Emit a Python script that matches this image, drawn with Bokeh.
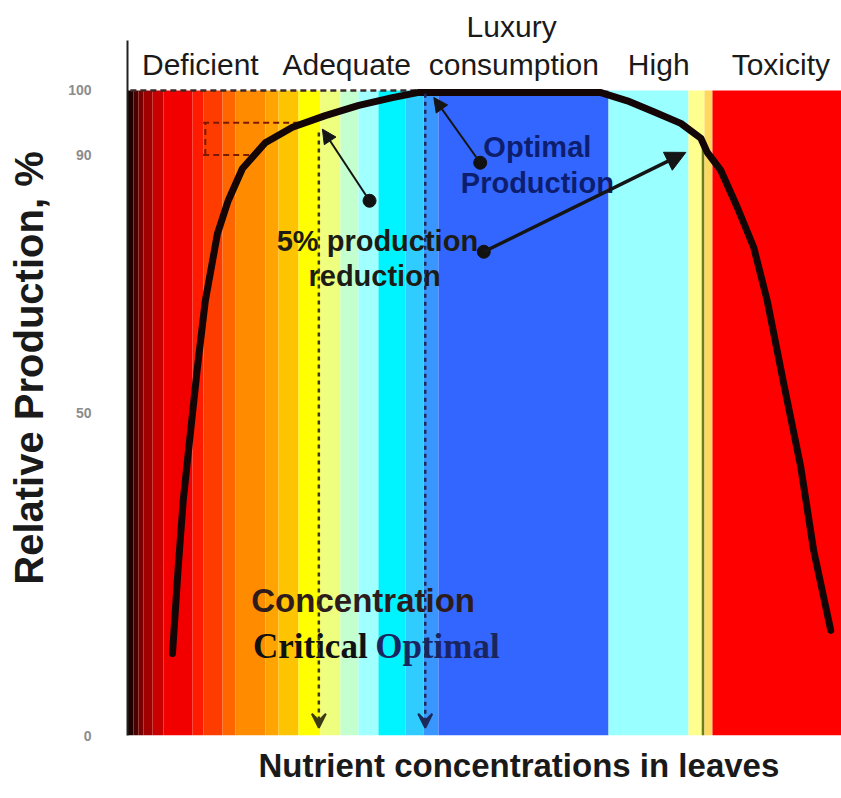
from bokeh.plotting import figure
from bokeh.models import Range1d, FixedTicker, Arrow, VeeHead, NormalHead, Title
from bokeh.core.properties import value
from bokeh.embed import file_html
from bokeh.resources import INLINE

# ---------------- data ----------------
# colour bands along the nutrient-concentration axis (arbitrary units 0-100)
band_left = [0.0, 0.84, 1.54, 2.24, 3.50, 5.04, 9.10, 10.64, 13.31, 15.13, 19.33, 21.15,
             23.95, 27.03, 29.83, 32.35, 35.15, 38.94, 41.46, 43.56, 67.37, 78.57, 80.81, 81.93]
band_right = band_left[1:] + [100.0]
band_color = ["#1e0000", "#4c0000", "#7a0000", "#a00000", "#c80000", "#f20000", "#ff1a00",
              "#ff3c00", "#ff6600", "#ff8c00", "#ffa400", "#ffc400", "#ffff00", "#eeff80",
              "#c4ffd0", "#a0ffff", "#00f4ff", "#30ccff", "#3a96ff", "#3366ff", "#99ffff",
              "#ffff90", "#ffd860", "#ff0000"]

# response curve: relative production (%) vs nutrient concentration
curve_x = [6.3, 7.1, 7.8, 8.8, 9.8, 10.9, 12.6, 14.1, 16.1, 19.3, 23.1, 27.7, 32.4, 37.1, 40.8,
           66.2, 70.0, 73.7, 77.5, 80.3, 81.2, 83.1, 85.4, 87.7, 89.6, 91.9, 94.3, 96.1, 98.5]
curve_y = [12.7, 26.0, 36.4, 46.8, 57.1, 67.4, 77.8, 82.9, 87.9, 91.9, 94.3, 96.1, 97.7, 98.9, 99.7,
           99.7, 98.4, 96.7, 94.9, 92.6, 90.4, 87.6, 81.9, 75.7, 67.4, 54.6, 41.6, 28.7, 16.3]

y_ticks = [0, 50, 90, 100]

zone_labels = ["Deficient", "Adequate", "consumption", "High", "Toxicity", "Luxury"]
zone_x = [10.2, 30.7, 54.1, 74.4, 91.5, 53.8]
zone_y = [104.0, 104.0, 104.0, 104.0, 104.0, 109.9]

critical_x = 26.8
optimal_x = 41.7
toxic_line_x = 80.6

# pointer arrows (tail -> head)
ptr_x0 = [33.9, 49.4, 49.9]
ptr_y0 = [82.9, 88.8, 75.0]
ptr_x1 = [27.3, 42.9, 78.2]
ptr_y1 = [94.0, 98.9, 90.4]

# ---------------- figure ----------------
p = figure(width=841, height=798, output_backend="svg", toolbar_location=None,
           x_range=Range1d(0, 100), y_range=Range1d(0, 113.95),
           min_border_left=127, min_border_right=0, min_border_top=0, min_border_bottom=63)
p.outline_line_color = None
p.grid.visible = False
p.xaxis.visible = False
p.background_fill_color = "white"

# bands
p.quad(left=band_left, right=band_right, bottom=0, top=100, fill_color=band_color,
       line_color=None)
p.segment(x0=[toxic_line_x], y0=[0], x1=[toxic_line_x], y1=[92], line_color="#6f7c1c",
          line_width=2.5)

# dashed reference lines
p.segment(x0=[0.4], y0=[100], x1=[41.0], y1=[100], line_color="#3a2a2a", line_width=2.5,
          line_dash="6 4")
p.segment(x0=[10.6, 10.6, 10.9], y0=[95, 90, 90], x1=[24.5, 18.0, 10.9], y1=[95, 90, 95],
          line_color="#7a1a00", line_width=2, line_dash="6 4")

# vertical dashed arrows (critical / optimal)
p.add_layout(Arrow(x_start=critical_x, y_start=93.5, x_end=critical_x, y_end=1.2,
                   line_color="#3c3c14", line_width=2.5, line_dash="4 4",
                   end=VeeHead(size=14, line_color="#3c3c14", fill_color="#3c3c14", line_width=2)))
p.add_layout(Arrow(x_start=optimal_x, y_start=99.5, x_end=optimal_x, y_end=1.2,
                   line_color="#1c2a5a", line_width=2.5, line_dash="4 4",
                   end=VeeHead(size=14, line_color="#1c2a5a", fill_color="#1c2a5a", line_width=2)))

# curve
p.line(curve_x, curve_y, line_color="#140606", line_width=7, line_join="round", line_cap="round")

# pointer arrows
widths = [2, 2, 3.5]
heads = [14, 14, 20]
for i in range(3):
    p.add_layout(Arrow(x_start=ptr_x0[i], y_start=ptr_y0[i], x_end=ptr_x1[i], y_end=ptr_y1[i],
                       line_color="#151515", line_width=widths[i],
                       end=NormalHead(size=heads[i], line_color="#151515", fill_color="#151515")))
p.scatter(ptr_x0, ptr_y0, size=13, color="#111111")

# texts
p.text(zone_x, zone_y, text=zone_labels, text_align="center", text_baseline="middle",
       text_font=value("Liberation Sans"), text_font_size="30px", text_color="#1a1a1a")
p.text([35.0, 34.6], [76.6, 71.3], text=["5% production", "reduction"], text_align="center",
       text_baseline="middle", text_font=value("Liberation Sans"), text_font_size="29px",
       text_font_style="bold", text_color="#1c1c14")
p.text([57.4, 57.4], [91.3, 85.7], text=["Optimal", "Production"], text_align="center",
       text_baseline="middle", text_font=value("Liberation Sans"), text_font_size="29px",
       text_font_style="bold", text_color="#0d1e6e")
p.text([33.0], [20.9], text=["Concentration"], text_align="center", text_baseline="middle",
       text_font=value("Liberation Sans"), text_font_size="33px", text_font_style="bold",
       text_color="#2e1c1c")
p.text([25.6], [13.8], text=["Critical"], text_align="center", text_baseline="middle",
       text_font=value("Liberation Serif"), text_font_size="35px", text_font_style="bold",
       text_color="#111111")
p.text([43.4], [13.8], text=["Optimal"], text_align="center", text_baseline="middle",
       text_font=value("Liberation Serif"), text_font_size="35px", text_font_style="bold",
       text_color="#1a2560")

# y axis
ya = p.yaxis[0]
ya.bounds = (0, 107.75)
ya.ticker = FixedTicker(ticks=y_ticks)
ya.axis_line_color = "#222222"
ya.axis_line_width = 2
ya.major_tick_line_color = None
ya.minor_tick_line_color = None
ya.major_label_standoff = 30
ya.major_label_text_font = "Liberation Sans"
ya.major_label_text_font_size = "14px"
ya.major_label_text_font_style = "bold"
ya.major_label_text_color = "#8c8c8c"
ya.axis_label = "Relative Production, %"
ya.axis_label_text_font = "Liberation Sans"
ya.axis_label_text_font_size = "40px"
ya.axis_label_text_font_style = "bold"
ya.axis_label_text_color = "#1a1a1a"
ya.axis_label_standoff = 14

# x axis title
p.add_layout(Title(text="Nutrient concentrations in leaves", align="left", offset=131,
                   standoff=18, text_font="Liberation Sans", text_font_size="33px",
                   text_font_style="bold", text_color="#1a1a1a"), "below")

open("out.html", "w").write(file_html(p, INLINE))
